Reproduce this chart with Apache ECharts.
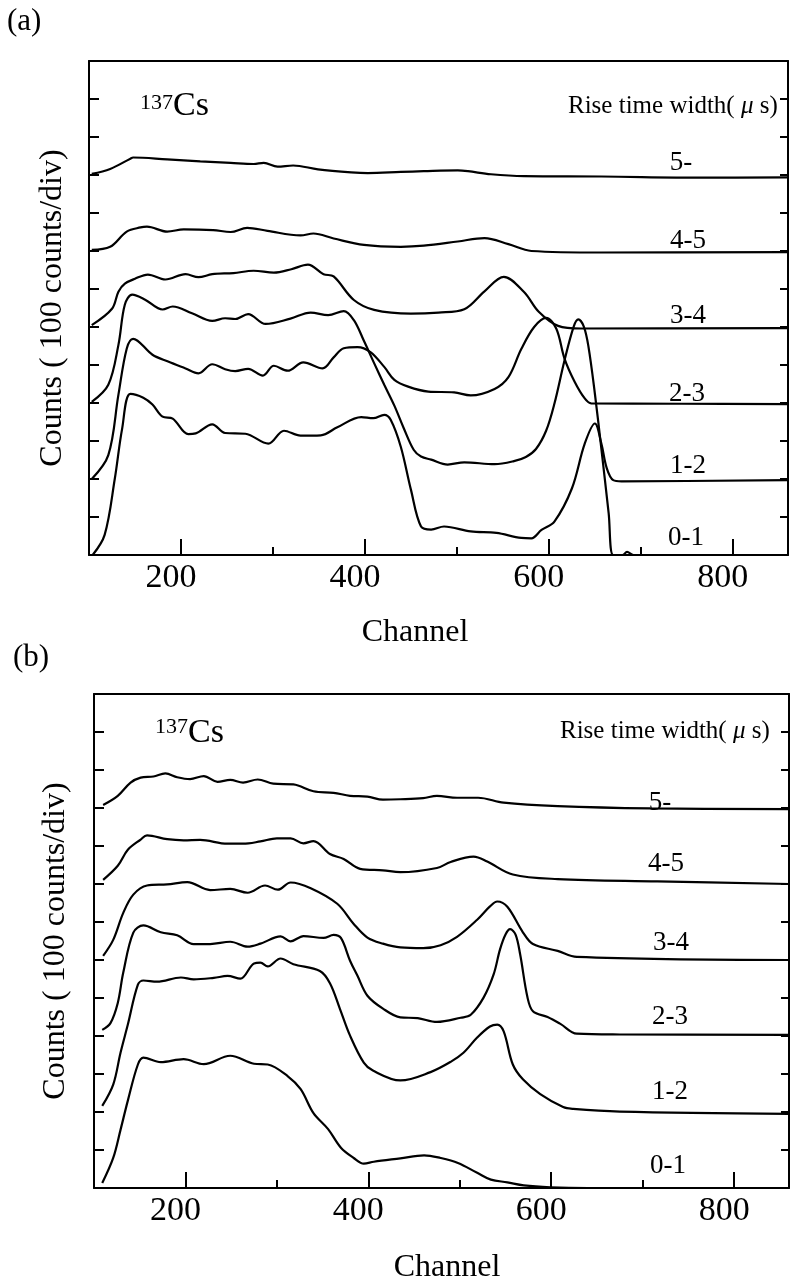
<!DOCTYPE html>
<html>
<head>
<meta charset="utf-8">
<script src="https://cdn.jsdelivr.net/npm/echarts@6.0.0/dist/echarts.min.js"></script>
<style>
  html, body { margin: 0; padding: 0; background: #fff; }
  #chart { width: 790px; height: 1285px; }
</style>
</head>
<body>
<div id="chart"></div>
<script>
// ---------- text / ticks ----------
const xTickValues = [200, 400, 600, 800];
const xMinorTickValues = [300, 500, 700];
const curveNames = ['5-', '4-5', '3-4', '2-3', '1-2', '0-1'];
const panelTags = ['(a)', '(b)'];
const isotopeMass = '137';
const isotopeSymbol = 'Cs';
const yAxisTitle = 'Counts ( 100 counts/div)';
const xAxisTitle = 'Channel';
const legendTitle = 'Rise time width( {mu|μ} s)';

// ---------- panel (a): [channel, plotted value (counts incl. offset)] ----------
const a_5 = [[103,1003],[123,1016],[145,1043],[148,1046],[185,1041],[221,1036],[254,1032],[279,1029],[290,1032],[305,1022],[322,1025],[349,1015],[385,1007],[403,1005],[439,1008],[464,1010],[501,1012],[512,1010],[537,1002],[573,997],[657,996],[766,993],[860,994]];
const a_45 = [[103,803],[123,811],[141,851],[156,862],[163,864],[185,851],[203,857],[235,855],[254,850],[272,861],[294,853],[330,841],[344,846],[366,833],[399,816],[439,811],[464,814],[501,825],[530,834],[556,818],[581,800],[657,796],[860,797]];
const a_34 = [[103,605],[125,648],[132,693],[139,714],[150,727],[164,738],[183,725],[205,739],[219,731],[234,739],[257,742],[279,748],[301,743],[320,752],[338,764],[355,739],[366,733],[388,671],[410,645],[450,635],[480,638],[508,647],[530,694],[551,732],[573,692],[589,640],[610,603],[635,596],[860,597]];
const a_23 = [[103,200],[121,263],[132,422],[141,543],[148,569],[169,527],[186,509],[205,491],[219,478],[234,502],[248,489],[259,484],[273,490],[289,472],[301,498],[316,485],[333,507],[354,491],[366,520],[377,544],[392,547],[406,534],[421,495],[432,461],[447,443],[469,430],[497,428],[515,420],[541,437],[556,468],[570,542],[584,600],[597,624],[608,596],[617,517],[628,456],[639,412],[646,399],[744,398],[860,397]];
const a_12 = [[104,0],[117,53],[128,200],[136,332],[145,424],[159,414],[169,396],[180,364],[191,359],[208,318],[216,320],[234,344],[248,321],[270,319],[295,293],[312,327],[330,314],[352,315],[370,336],[396,363],[409,360],[421,369],[428,356],[439,285],[450,172],[461,75],[472,67],[486,75],[515,62],[543,58],[570,45],[581,44],[592,66],[606,88],[625,175],[639,293],[650,346],[657,294],[663,228],[670,197],[679,194],[860,197]];
const a_01 = [[103,403],[121,448],[132,553],[139,659],[147,685],[161,672],[180,646],[191,654],[212,636],[234,616],[248,623],[259,621],[273,634],[292,608],[319,622],[341,638],[360,631],[377,642],[388,618],[399,563],[410,505],[421,448],[432,393],[442,335],[453,277],[461,259],[472,251],[490,238],[508,244],[541,239],[562,247],[575,258],[586,279],[597,327],[606,398],[617,512],[627,601],[632,620],[638,601],[643,549],[650,425],[657,281],[665,110],[670,0],[680,0],[685,8],[692,0],[860,0]];

// ---------- panel (b) ----------
const b_5 = [[110,1008],[126,1032],[140,1067],[151,1080],[165,1083],[178,1091],[191,1081],[205,1076],[220,1084],[235,1069],[249,1074],[263,1067],[279,1075],[296,1064],[318,1062],[340,1044],[362,1040],[380,1032],[399,1030],[416,1022],[435,1023],[460,1026],[475,1032],[497,1027],[520,1027],[548,1014],[607,1005],[708,999],[860,997]];
const b_45 = [[110,811],[126,848],[137,890],[151,917],[158,928],[180,918],[198,915],[216,916],[246,906],[263,906],[282,912],[300,920],[315,920],[329,907],[340,913],[358,879],[373,866],[391,840],[416,836],[435,831],[475,842],[490,858],[515,872],[530,859],[558,825],[607,813],[716,807],[860,800]];
const b_34 = [[110,611],[121,653],[132,724],[143,772],[158,796],[180,799],[202,805],[227,784],[249,787],[268,777],[287,796],[301,785],[315,804],[337,789],[366,748],[384,695],[399,659],[416,643],[435,633],[460,631],[479,639],[497,661],[519,706],[533,741],[541,754],[552,740],[569,673],[580,642],[607,624],[628,608],[860,600]];
const b_23 = [[109,416],[118,434],[126,487],[132,567],[143,672],[154,691],[173,673],[191,665],[209,642],[227,642],[249,648],[268,635],[282,643],[304,662],[315,649],[329,663],[351,658],[362,666],[370,658],[380,598],[388,559],[399,506],[416,472],[435,449],[454,447],[475,437],[501,448],[512,456],[526,501],[537,562],[544,628],[550,667],[555,681],[561,667],[566,615],[574,502],[580,465],[596,450],[610,432],[628,406],[675,404],[860,403]];
const b_12 = [[109,216],[121,272],[129,356],[137,430],[148,535],[154,546],[169,543],[195,554],[209,549],[231,553],[246,558],[260,551],[275,591],[282,593],[290,583],[304,604],[318,589],[347,571],[358,539],[369,471],[380,401],[395,330],[405,309],[435,283],[468,305],[490,332],[504,356],[519,396],[533,425],[541,430],[548,412],[558,325],[569,286],[588,247],[613,213],[624,208],[675,201],[860,195]];
const b_01 = [[109,13],[121,79],[129,153],[137,230],[148,325],[154,343],[173,331],[198,339],[220,326],[249,348],[275,327],[290,325],[312,294],[326,260],[340,197],[356,155],[370,106],[384,79],[395,64],[406,69],[435,78],[461,86],[479,79],[498,66],[519,40],[534,22],[552,15],[570,7],[599,2],[640,0],[860,0]];

const panelA = [a_5, a_45, a_34, a_23, a_12, a_01];
const panelB = [b_5, b_45, b_34, b_23, b_12, b_01];

// ---------- layout / style ----------
const FONT = '"Liberation Serif","Times New Roman",serif';
const INK = '#000';
const line = { color: INK, width: 2 };

const grids = [
  { left: 89, top: 61, width: 699, height: 494 },
  { left: 94, top: 694, width: 695, height: 494 }
];
const chNameGap = [62, 64];
const chNamePad = [[0, 47, 0, 0], [0, 0, 0, 11]];
const yNameGap = [20, 22];

const xAxes = [], yAxes = [], series = [];
grids.forEach((g, i) => {
  xAxes.push({
    gridIndex: i, type: 'value', min: 100, max: 860, interval: 100, position: 'bottom',
    axisLine: { show: true, onZero: false, lineStyle: line },
    axisTick: { show: true, inside: true, length: 16, customValues: xTickValues, lineStyle: line },
    axisLabel: { show: true, customValues: xTickValues, margin: 6, color: INK, fontSize: 34, fontFamily: FONT, padding: [0, 20, 0, 0] },
    splitLine: { show: false },
    name: xAxisTitle, nameLocation: 'middle', nameGap: chNameGap[i],
    nameTextStyle: { color: INK, fontSize: 32, fontFamily: FONT, padding: chNamePad[i] }
  });
  xAxes.push({
    gridIndex: i, type: 'value', min: 100, max: 860, interval: 100, position: 'bottom',
    axisLine: { show: false, onZero: false },
    axisTick: { show: true, inside: true, length: 8, customValues: xMinorTickValues, lineStyle: line },
    axisLabel: { show: false }, splitLine: { show: false }
  });
  xAxes.push({
    gridIndex: i, type: 'value', min: 100, max: 860, position: 'top',
    axisLine: { show: true, onZero: false, lineStyle: line },
    axisTick: { show: false }, axisLabel: { show: false }, splitLine: { show: false }
  });
  yAxes.push({
    gridIndex: i, type: 'value', min: 0, max: 1300, interval: 100, position: 'left',
    axisLine: { show: true, onZero: false, lineStyle: line },
    axisTick: { show: true, inside: true, length: 10, lineStyle: line },
    axisLabel: { show: false }, splitLine: { show: false },
    name: yAxisTitle, nameLocation: 'middle', nameGap: yNameGap[i], nameRotate: 90,
    nameTextStyle: { color: INK, fontSize: 32, fontFamily: FONT }
  });
  yAxes.push({
    gridIndex: i, type: 'value', min: 0, max: 1300, interval: 100, position: 'right',
    axisLine: { show: true, onZero: false, lineStyle: line },
    axisTick: { show: true, inside: true, length: 8, lineStyle: line },
    axisLabel: { show: false }, splitLine: { show: false }
  });
  const curves = i === 0 ? panelA : panelB;
  curves.forEach((d, k) => {
    series.push({
      name: (i === 0 ? 'a ' : 'b ') + curveNames[k],
      type: 'line', xAxisIndex: i * 3, yAxisIndex: i * 2, data: d,
      symbol: 'none', showSymbol: false, smooth: 0.35,
      lineStyle: { color: INK, width: 2.2 }, clip: true, z: 3
    });
  });
});

// ---------- annotation texts ----------
function txt(x, y, text, size, align, extra) {
  return {
    type: 'text', x: x, y: y, z: 10,
    style: Object.assign({
      text: text, font: size + 'px ' + FONT, fill: INK,
      textAlign: align || 'left', textVerticalAlign: 'middle',
      align: align || 'left', verticalAlign: 'middle'
    }, extra || {})
  };
}
const muRich = { rich: { mu: { fontStyle: 'italic', fontSize: 25, fontFamily: FONT, fill: INK, color: INK } } };
const labelPosA = [[681,163],[688,241],[688,316],[687,394],[688,466],[686,538]];
const labelPosB = [[660,803],[666,864],[671,943],[670,1017],[670,1092],[668,1166]];
const graphics = [
  txt(7, 22, panelTags[0], 31),
  txt(13, 658, panelTags[1], 31),
  txt(140, 103, isotopeMass, 22),
  txt(173, 106, isotopeSymbol, 34),
  txt(155, 727, isotopeMass, 22),
  txt(188, 733, isotopeSymbol, 34),
  txt(568, 106, legendTitle, 25, 'left', muRich),
  txt(560, 731, legendTitle, 25, 'left', muRich)
];
curveNames.forEach((n, k) => {
  graphics.push(txt(labelPosA[k][0], labelPosA[k][1], n, 27, 'center'));
  graphics.push(txt(labelPosB[k][0], labelPosB[k][1], n, 27, 'center'));
});

const chart = echarts.init(document.getElementById('chart'), null, { renderer: 'canvas' });
chart.setOption({
  animation: false,
  backgroundColor: '#fff',
  textStyle: { fontFamily: FONT, color: INK },
  grid: grids.map(g => Object.assign({ containLabel: false, outerBoundsMode: 'none' }, g)),
  xAxis: xAxes,
  yAxis: yAxes,
  series: series,
  graphic: graphics
});
</script>
</body>
</html>
